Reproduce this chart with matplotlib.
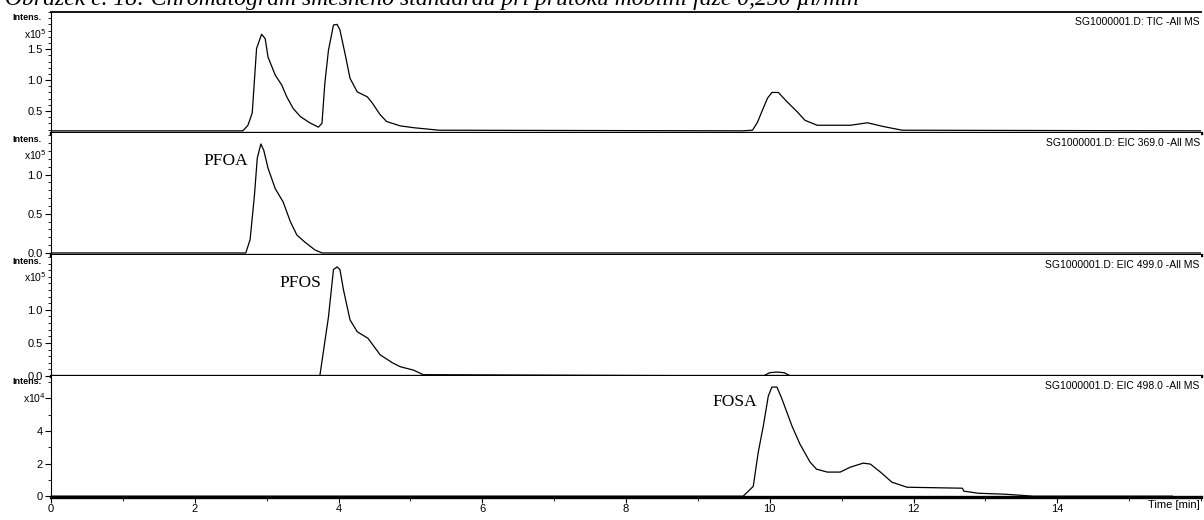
import numpy as np
import matplotlib
matplotlib.use('Agg')
import matplotlib.pyplot as plt
from matplotlib.ticker import MultipleLocator, FixedLocator

# Retention times [min] and intensities for each trace
tic_t = [0.0, 2.67, 2.74, 2.80, 2.86, 2.93, 2.98, 3.02, 3.12, 3.21, 3.28, 3.37, 3.47, 3.60,
         3.72, 3.77, 3.81, 3.86, 3.93, 3.98, 4.02, 4.09, 4.16, 4.26, 4.40, 4.47, 4.58, 4.67,
         4.86, 5.05, 5.40, 9.62, 9.76, 9.83, 9.90, 9.97, 10.03, 10.12, 10.24, 10.38, 10.49,
         10.66, 11.12, 11.36, 11.58, 11.84, 16.0]
tic_v = [0.18, 0.18, 0.27, 0.47, 1.51, 1.74, 1.67, 1.37, 1.08, 0.92, 0.73, 0.54, 0.41, 0.31,
         0.24, 0.30, 0.95, 1.48, 1.89, 1.90, 1.81, 1.43, 1.03, 0.81, 0.73, 0.63, 0.44, 0.33,
         0.26, 0.23, 0.19, 0.18, 0.19, 0.32, 0.52, 0.71, 0.80, 0.80, 0.65, 0.49, 0.35,
         0.27, 0.27, 0.31, 0.25, 0.19, 0.18]

pfoa_t = [0.0, 2.71, 2.77, 2.83, 2.87, 2.92, 2.96, 3.02, 3.12, 3.23, 3.33, 3.42, 3.53, 3.67,
          3.77, 16.0]
pfoa_v = [0.0, 0.0, 0.17, 0.73, 1.21, 1.39, 1.31, 1.08, 0.82, 0.65, 0.40, 0.23, 0.14, 0.04,
          0.0, 0.0]

pfos_t = [0.0, 3.74, 3.86, 3.93, 3.98, 4.02, 4.07, 4.16, 4.26, 4.41, 4.58, 4.75, 4.86, 5.04,
          5.18, 9.91, 10.0, 10.1, 10.2, 10.29, 16.0]
pfos_v = [0.0, 0.0, 0.89, 1.61, 1.65, 1.61, 1.30, 0.85, 0.67, 0.57, 0.32, 0.20, 0.14, 0.09,
          0.02, 0.0, 0.05, 0.06, 0.05, 0.0, 0.0]

fosa_t = [0.0, 9.63, 9.77, 9.84, 9.91, 9.98, 10.03, 10.10, 10.17, 10.31, 10.42, 10.56, 10.65,
          10.80, 10.98, 11.12, 11.30, 11.40, 11.54, 11.70, 11.91, 12.68, 12.70, 12.90, 13.28,
          13.67, 15.6]
fosa_v = [0.0, 0.0, 0.6, 2.7, 4.3, 6.15, 6.7, 6.7, 5.97, 4.3, 3.2, 2.1, 1.66,
          1.48, 1.48, 1.78, 2.03, 1.97, 1.48, 0.86, 0.55, 0.49, 0.31, 0.18, 0.12,
          0.0, 0.0]

traces = ['TIC -All MS', 'EIC 369.0 -All MS', 'EIC 499.0 -All MS', 'EIC 498.0 -All MS']
peak_names = [None, 'PFOA', 'PFOS', 'FOSA']
peak_label_pos = [None, (2.74, 1.17), (3.76, 1.41), (9.83, 5.78)]
exponents = [5, 5, 5, 4]

W, H = 1204, 520
fig = plt.figure(figsize=(W / 100, H / 100), dpi=100)
fig.patch.set_facecolor('white')

# panel boxes in pixels: (top, bottom)
rows = [(12, 133), (133, 255), (255, 376), (376, 497)]
x0, x1 = 51, 1201
ylims = [(0.145, 2.10), (-0.026, 1.53), (0.0, 1.83), (-0.05, 7.38)]
majors = [[0.5, 1.0, 1.5], [0.0, 0.5, 1.0], [0.0, 0.5, 1.0], [0, 2, 4, 6]]
minor_step = [0.1, 0.1, 0.1, 1.0]
data = [(tic_t, tic_v), (pfoa_t, pfoa_v), (pfos_t, pfos_v), (fosa_t, fosa_v)]

tick_font = dict(family='Liberation Sans', size=8)

for i, (top, bot) in enumerate(rows):
    ax = fig.add_axes([x0 / W, 1 - bot / H, (x1 - x0) / W, (bot - top) / H])
    t, v = data[i]
    ax.plot(t, v, color='black', lw=0.9)
    ax.set_xlim(0, 16)
    ax.set_ylim(*ylims[i])

    ax.spines['right'].set_visible(False)
    ax.spines['left'].set_linewidth(0.8)
    ax.spines['bottom'].set_linewidth(2.4)
    if i == 0:
        ax.spines['top'].set_linewidth(1.3)
    else:
        ax.spines['top'].set_visible(False)

    ax.yaxis.set_major_locator(FixedLocator(majors[i]))
    ax.yaxis.set_minor_locator(MultipleLocator(minor_step[i]))
    if i == 3:
        ax.set_yticklabels(['0', '2', '4', ''])
    else:
        ax.set_yticklabels([f'{m:.1f}' for m in majors[i]])
    ax.tick_params(axis='y', which='major', direction='out', length=4, width=0.8, pad=2,
                   labelsize=tick_font['size'])
    ax.tick_params(axis='y', which='minor', direction='out', length=2, width=0.6)
    for lab in ax.get_yticklabels():
        lab.set_family(tick_font['family'])

    if i == 3:
        ax.set_xticks(range(0, 16, 2))
        ax.xaxis.set_minor_locator(MultipleLocator(1))
        ax.tick_params(axis='x', which='major', direction='out', length=4, width=0.8, pad=1,
                       labelsize=tick_font['size'])
        ax.tick_params(axis='x', which='minor', direction='out', length=3, width=0.6)
        for lab in ax.get_xticklabels():
            lab.set_family(tick_font['family'])
        ax.text(0.999, -0.07, 'Time [min]', transform=ax.transAxes, ha='right', va='center',
                **tick_font)
    else:
        ax.set_xticks([])

    # axis captions at top of the intensity axis
    ax.text(-0.008, 1 - 6 / 121, 'Intens.', transform=ax.transAxes, ha='right', va='center',
            family='Liberation Sans', size=6.5, weight='bold')
    ax.text(-0.004, 1 - 22 / 121, f'x10$^{exponents[i]}$', transform=ax.transAxes,
            ha='right', va='center', family='Liberation Sans', size=7.5)

    ax.text(0.999, 1 - 10 / 121, f'SG1000001.D: {traces[i]}', transform=ax.transAxes,
            ha='right', va='center', family='Liberation Sans', size=7.5)

    if peak_names[i]:
        px, py = peak_label_pos[i]
        ax.text(px, py, peak_names[i], ha='right', va='center',
                family='Liberation Serif', size=12.5)

fig.text(5 / W, 1 - 4.5 / H,
         'Obrázek č. 18: Chromatogram směsného standardu při průtoku mobilní fáze 0,250 µl/min',
         ha='left', va='baseline', family='Liberation Serif', style='italic', size=17)

fig.savefig('out.png', dpi=100, facecolor='white')
